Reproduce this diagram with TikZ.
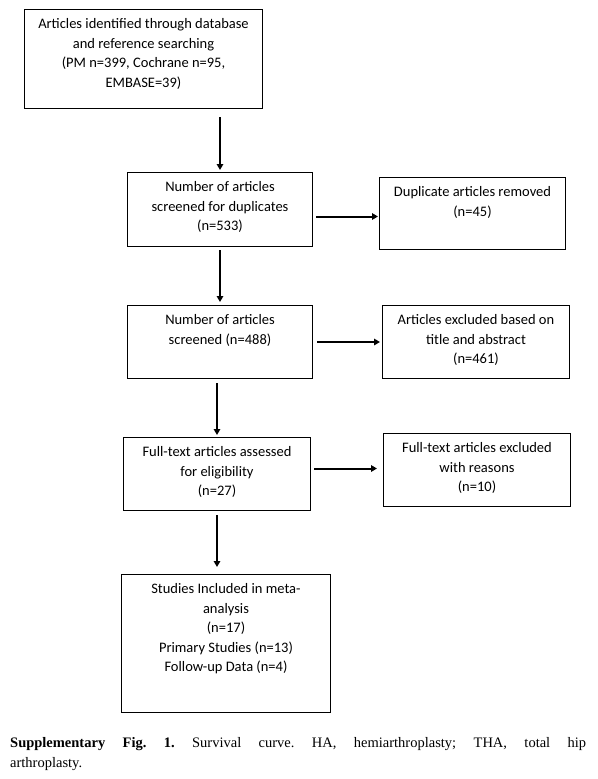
\documentclass[tikz,border=0pt]{standalone}
\usepackage{fontspec}
\setmainfont{Carlito}
\newfontfamily\capfont{Liberation Serif}
\usetikzlibrary{arrows.meta}
\newcommand{\stagetext}[3]{\parbox[c][#2pt][t]{#1pt}{\centering\vspace*{5.5pt}\strut #3}}

\begin{document}
\begin{tikzpicture}[x=1pt, y=-1pt,
  stagebox/.style={draw, line width=1pt, inner sep=0pt, anchor=north west, font=\fontsize{14.5}{19.5}\selectfont},
  flowarrow/.style={-{Triangle[length=6pt,width=6.5pt]}, line width=1.8pt}]
\useasboundingbox (0,0) rectangle (597,779);
\node [stagebox] (found) at (24,9) {\stagetext{238}{99}{Articles identified through database\\ and reference searching\\ (PM n=399, Cochrane n=95,\\ EMBASE=39)}};
\node [stagebox] (dupscr) at (127,172) {\stagetext{185}{74}{Number of articles\\ screened for duplicates\\ (n=533)}};
\node [stagebox] (dupout) at (379,177) {\stagetext{186}{72}{Duplicate articles removed\\ (n=45)}};
\node [stagebox] (screen) at (127,305) {\stagetext{185}{73}{Number of articles\\ screened (n=488)}};
\node [stagebox] (tiabout) at (382,305) {\stagetext{187}{73}{Articles excluded based on\\ title and abstract\\ (n=461)}};
\node [stagebox] (fulltext) at (123,437) {\stagetext{187}{73}{Full-text articles assessed\\ for eligibility\\ (n=27)}};
\node [stagebox] (ftout) at (383,433) {\stagetext{187}{73}{Full-text articles excluded\\ with reasons\\ (n=10)}};
\node [stagebox] (included) at (121,574) {\stagetext{209}{138}{Studies Included in meta-\\ analysis\\ (n=17)\\ Primary Studies (n=13)\\ Follow-up Data (n=4)}};
\draw [flowarrow, shorten <=8pt, shorten >=2pt] (found.south -| dupscr.north) -- (dupscr.north);
\draw [flowarrow, shorten <=3pt, shorten >=3pt] (dupscr.south) -- (screen.north);
\draw [flowarrow, shorten <=4pt, shorten >=2pt] (screen.south -| fulltext.north) -- (fulltext.north);
\draw [flowarrow, shorten <=4pt, shorten >=7pt] (fulltext.south) -- (fulltext.south |- included.north);
\draw [flowarrow, line width=2pt, shorten <=3pt, shorten >=1pt] ([yshift=-7pt]dupscr.east) -- ([yshift=-7pt]dupscr.east -| dupout.west);
\draw [flowarrow, line width=2pt, shorten <=4pt, shorten >=2pt] (screen.east) -- (screen.east -| tiabout.west);
\draw [flowarrow, line width=2pt, shorten <=3pt, shorten >=6pt] ([yshift=5.5pt]fulltext.east) -- ([yshift=5.5pt]fulltext.east -| ftout.west);
\node [anchor=north west, inner sep=0pt, font=\capfont\fontsize{14.5}{20}\selectfont] (caption) at (10,733)
  {\parbox{576pt}{\frenchspacing\hyphenpenalty=10000\strut\textbf{Supplementary Fig. 1.} Survival curve. HA, hemiarthroplasty; THA, total hip\linebreak arthroplasty.}};
\end{tikzpicture}
\end{document}
